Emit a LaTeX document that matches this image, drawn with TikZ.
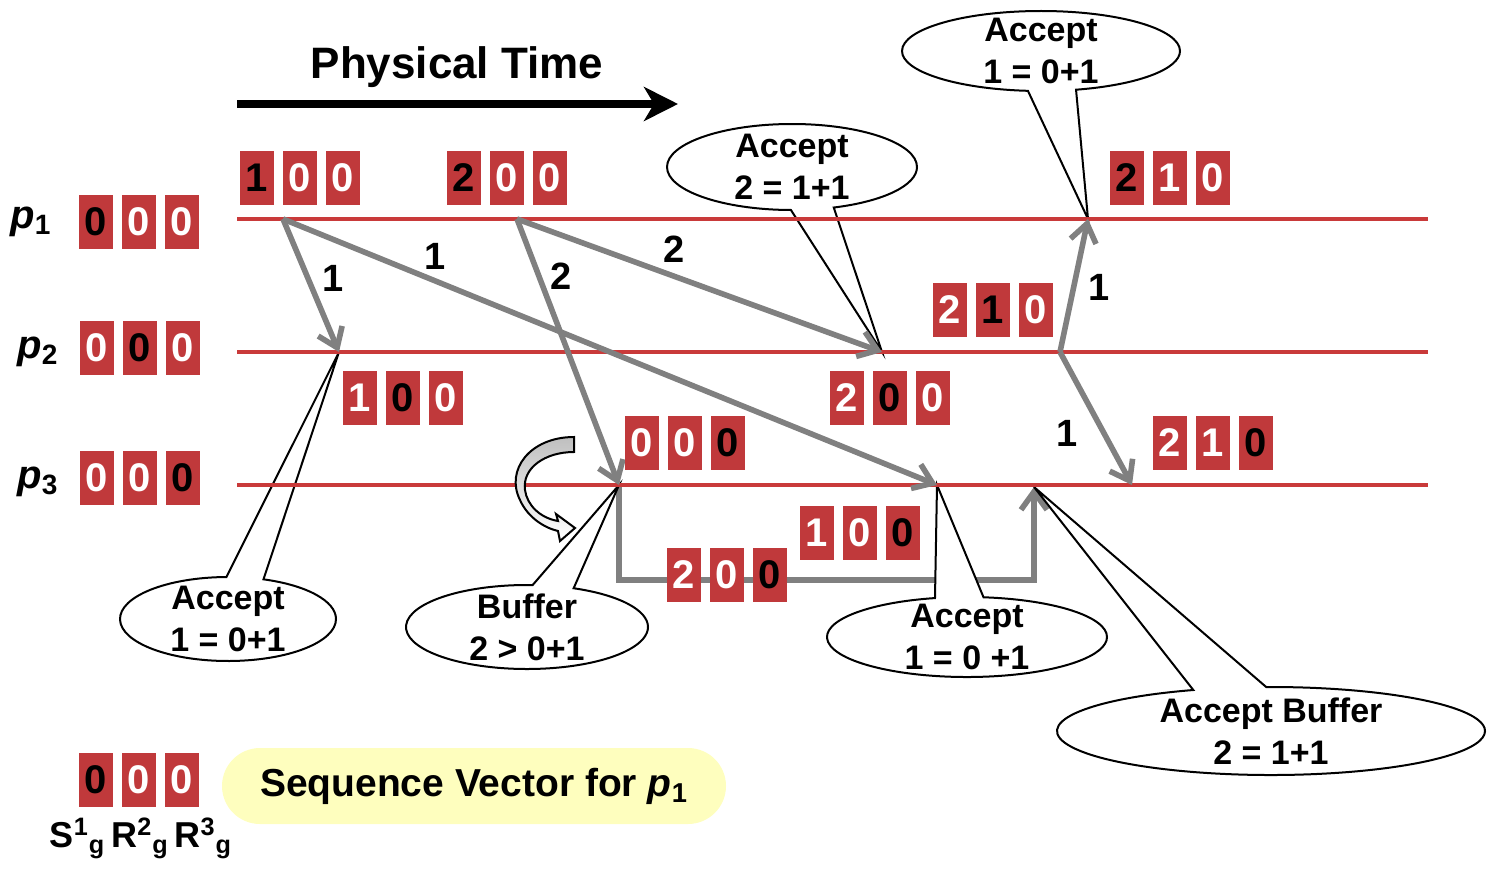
\documentclass[tikz,border=0pt]{standalone}
\usepackage{fontspec}
\setmainfont{Liberation Sans}
\usetikzlibrary{arrows.meta, positioning, shapes.callouts}

\definecolor{cellred}{RGB}{192,57,59}
\definecolor{linered}{RGB}{201,58,58}
\definecolor{msggray}{RGB}{128,128,128}
\definecolor{hilite}{RGB}{254,254,190}

\newcommand{\fsz}[1]{\fontsize{#1}{#1}\selectfont}
\newcommand{\own}[1]{\textcolor{black}{#1}}
% three cells of a sequence vector, first cell centred at #2
\newcommand{\seqvec}[5]{%
  \node[cell] (#1a) at (#2) {#3};
  \node[cell, right=of #1a] (#1b) {#4};
  \node[cell, right=of #1b] (#1c) {#5};
}

\begin{document}
\begin{tikzpicture}[
    x=0.5pt, y=-0.5pt,
    node distance=4pt,
    every node/.style={font=\bfseries},
    cell/.style={
        rectangle,
        fill=cellred,
        text=white,
        inner sep=0pt,
        minimum width=17pt,
        minimum height=27pt,
        font=\bfseries\fsz{20}
    },
    bubble/.style={
        ellipse callout,
        draw,
        fill=white,
        line width=1pt,
        inner sep=0pt,
        callout pointer arc=20
    },
    note/.style={align=center, font=\bfseries\fontsize{17}{21}\selectfont},
    num/.style={font=\bfseries\fsz{19}},
    proc/.style={font=\bfseries\fsz{20}},
    timeline/.style={draw=linered, line width=2pt},
    msg/.style={
        draw=msggray,
        line width=2.8pt,
        -{Straight Barb[length=9pt, width=13pt]}
    },
    timearrow/.style={
        line width=3.5pt,
        -{Stealth[length=17pt, width=17pt, inset=5pt]}
    },
    blob/.style={
        fill=hilite,
        rounded corners=19pt,
        minimum width=252pt,
        minimum height=38pt,
        font=\bfseries\fsz{19.5}
    }
    ]

    \useasboundingbox (0,0) rectangle (1502,872);

    % Physical time
    \coordinate (t0) at (237,104);
    \coordinate (t1) at (678,104);
    \draw[timearrow] (t0) -- (t1);
    \node[font=\bfseries\fsz{22}] (ptime) at (457,67) {Physical Time};

    % Process labels
    \node[proc] (p1) at (31,222) {\textit{p}\textsubscript{1}};
    \node[proc] (p2) at (38,352) {\textit{p}\textsubscript{2}};
    \node[proc] (p3) at (38,482) {\textit{p}\textsubscript{3}};

    % Time lines
    \coordinate (l1s) at (237,219); \coordinate (l1e) at (1428,219);
    \coordinate (l2s) at (237,352); \coordinate (l2e) at (1428,352);
    \coordinate (l3s) at (237,485); \coordinate (l3e) at (1428,485);

    % Events
    \coordinate (p1s1) at (283,219);
    \coordinate (p1s2) at (517,219);
    \coordinate (p1r) at (1088,219);
    \coordinate (p2r1) at (339,352);
    \coordinate (p2r2) at (882,352);
    \coordinate (p2s) at (1060,352);
    \coordinate (p3r2) at (619,485);
    \coordinate (p3r1) at (937,485);
    \coordinate (p3d) at (1034,487);
    \coordinate (p3r3) at (1132,485);

    % Buffered delivery
    \draw[msg] (p3r2) -- ++(0,95) -| (p3d);

    % Callouts
    \node[bubble, minimum width=139pt, minimum height=40pt,
          callout absolute pointer={(p1r)}] (cA) at (1041,51) {};
    \node[bubble, minimum width=125pt, minimum height=43pt,
          callout absolute pointer={(p2r2)}] (cB) at (792,167) {};
    \node[bubble, minimum width=108pt, minimum height=42pt,
          callout absolute pointer={(p2r1)}] (cC) at (228,619) {};
    \node[bubble, minimum width=121pt, minimum height=42pt,
          callout absolute pointer={(p3r2)}] (cD) at (527,627) {};
    \node[bubble, minimum width=140pt, minimum height=40pt,
          callout absolute pointer={(p3r1)}] (cE) at (967,637) {};
    \node[bubble, minimum width=214pt, minimum height=44pt,
          callout absolute pointer={(p3d)}] (cF) at (1271,731) {};

    \node[note] (cAtext) at (cA) {Accept\\1 = 0+1};
    \node[note] (cBtext) at (cB) {Accept\\2 = 1+1};
    \node[note] (cCtext) at (cC) {Accept\\1 = 0+1};
    \node[note] (cDtext) at (cD) {Buffer\\2 > 0+1};
    \node[note] (cEtext) at (cE) {Accept\\1 = 0 +1};
    \node[note] (cFtext) at (cF) {Accept Buffer\\2 = 1+1};

    \draw[timeline] (l1s) -- (l1e);
    \draw[timeline] (l2s) -- (l2e);
    \draw[timeline] (l3s) -- (l3e);

    % Messages
    \draw[msg] (p1s1) -- (p2r1);
    \draw[msg] (p1s1) -- (p3r1);
    \draw[msg] (p1s2) -- (p3r2);
    \draw[msg] (p1s2) -- (p2r2);
    \draw[msg] (p2s) -- (p1r);
    \draw[msg] (p2s) -- (p3r3);

    \node[num] (m1) at (333,278) {1};
    \node[num] (m2) at (435,256) {1};
    \node[num] (m3) at (561,276) {2};
    \node[num] (m4) at (674,249) {2};
    \node[num] (m5) at (1099,287) {1};
    \node[num] (m6) at (1067,433) {1};

    % Sequence vectors
    \seqvec{i1}{96,222}{\own0}{0}{0}
    \seqvec{i2}{97,348}{0}{\own0}{0}
    \seqvec{i3}{97,478}{0}{0}{\own0}
    \seqvec{a1}{257,178}{\own1}{0}{0}
    \seqvec{b1}{464,178}{\own2}{0}{0}
    \seqvec{c1}{1127,178}{\own2}{1}{0}
    \seqvec{a2}{360,398}{1}{\own0}{0}
    \seqvec{b2}{847,398}{2}{\own0}{0}
    \seqvec{c2}{950,310}{2}{\own1}{0}
    \seqvec{a3}{642,443}{0}{0}{\own0}
    \seqvec{b3}{684,575}{2}{0}{\own0}
    \seqvec{d3}{817,533}{1}{0}{\own0}
    \seqvec{c3}{1170,443}{2}{1}{\own0}

    % Buffer symbol
    \shade[top color=gray!50, bottom color=white, draw=black, line width=1pt]
        (574,437) .. controls (530,437) and (505,470) .. (520,500)
        .. controls (528,518) and (545,528) .. (558,531)
        -- (560,541) -- (575,528) -- (556,514) -- (558,521)
        .. controls (540,518) and (527,505) .. (525,490)
        .. controls (522,468) and (545,452) .. (574,452) -- cycle;

    % Legend
    \seqvec{lg}{96,780}{\own0}{0}{0}
    \node[font=\bfseries\fsz{18}] (lglab) at (141,838)
        {S\textsuperscript{1}\textsubscript{g}\,R\textsuperscript{2}\textsubscript{g}\,R\textsuperscript{3}\textsubscript{g}};
    \node[blob] (legend) at (474,786) {Sequence Vector for \textit{p}\textsubscript{1}};

\end{tikzpicture}
\end{document}
